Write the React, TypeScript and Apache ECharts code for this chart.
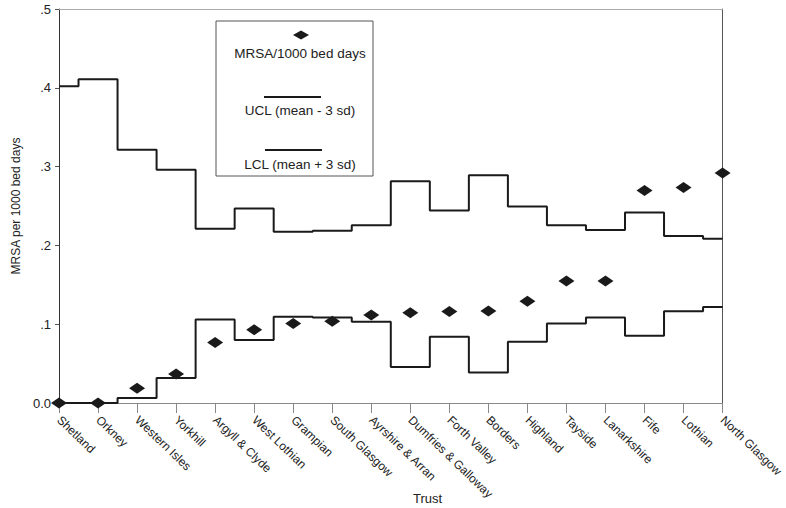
import React, { useEffect, useRef } from "react";
import * as echarts from "echarts";

const trusts = [
  "Shetland", "Orkney", "Western Isles", "Yorkhill", "Argyll & Clyde", "West Lothian",
  "Grampian", "South Glasgow", "Ayrshire & Arran", "Dumfries & Galloway", "Forth Valley",
  "Borders", "Highland", "Tayside", "Lanarkshire", "Fife", "Lothian", "North Glasgow",
];
const mrsaRate = [
  0.0, 0.0, 0.0186, 0.0367, 0.0768, 0.0928, 0.1009, 0.1038, 0.1118, 0.1145,
  0.116, 0.1169, 0.129, 0.1549, 0.1549, 0.2696, 0.2734, 0.292,
];
const upperLimit = [
  0.402, 0.411, 0.3215, 0.296, 0.221, 0.2468, 0.2173, 0.2186, 0.2257, 0.2814,
  0.2443, 0.289, 0.2494, 0.2257, 0.2194, 0.2418, 0.2118, 0.2084,
];
const lowerLimit = [
  0.0, 0.0, 0.0065, 0.0316, 0.106, 0.0798, 0.1093, 0.1084, 0.1031, 0.0458,
  0.084, 0.0388, 0.0776, 0.1008, 0.1084, 0.0852, 0.1165, 0.1219,
];
const yTicks = [0, 0.1, 0.2, 0.3, 0.4, 0.5];
const yTickLabels = ["0.0", ".1", ".2", ".3", ".4", ".5"];
const legendLabels = ["MRSA/1000 bed days", "UCL (mean - 3 sd)", "LCL (mean + 3 sd)"];

const FONT = "Liberation Sans, Arial, sans-serif";

export default function App() {
  const ref = useRef<HTMLDivElement>(null);
  useEffect(() => {
    if (!ref.current) return;
    const chart = echarts.init(ref.current, null, { renderer: "svg" });
    const labelFor = (v: number) => {
      const i = yTicks.findIndex((t) => Math.abs(t - v) < 1e-6);
      return i >= 0 ? yTickLabels[i] : "";
    };
    const legendText = (text: string, y: number) => ({
      type: "text",
      x: 300,
      y,
      style: {
        text,
        fontSize: 13.5,
        fontFamily: FONT,
        fill: "#222",
        align: "center",
        verticalAlign: "middle",
      },
      z: 11,
    });
    chart.setOption({
      animation: false,
      backgroundColor: "#ffffff",
      textStyle: { fontFamily: FONT },
      grid: { left: 59, right: 55, top: 9, bottom: 105, containLabel: false },
      xAxis: [
        {
          type: "category",
          data: trusts,
          boundaryGap: false,
          axisLine: { show: true, lineStyle: { color: "#888", width: 1 } },
          axisTick: { show: true, length: 10, lineStyle: { color: "#888" } },
          axisLabel: {
            rotate: -44,
            interval: 0,
            margin: 15,
            fontSize: 12,
            color: "#222",
            fontFamily: FONT,
          },
          splitLine: { show: false },
        },
        {
          type: "category",
          position: "top",
          data: trusts,
          boundaryGap: false,
          axisLine: { show: true, onZero: false, lineStyle: { color: "#aaa", width: 1 } },
          axisTick: { show: false },
          axisLabel: { show: false },
        },
      ],
      yAxis: [
        {
          type: "value",
          min: 0,
          max: 0.5,
          interval: 0.1,
          name: "MRSA per 1000 bed days",
          nameLocation: "middle",
          nameGap: 36,
          nameTextStyle: { fontSize: 12, color: "#222", fontFamily: FONT },
          axisLine: { show: true, lineStyle: { color: "#333", width: 1 } },
          axisTick: { show: true, length: 4, lineStyle: { color: "#555" } },
          axisLabel: {
            formatter: labelFor,
            fontSize: 13,
            color: "#222",
            margin: 8,
            fontFamily: FONT,
          },
          splitLine: { show: false },
        },
        {
          type: "value",
          position: "right",
          min: 0,
          max: 0.5,
          interval: 0.1,
          axisLine: { show: true, lineStyle: { color: "#555", width: 1 } },
          axisTick: { show: false },
          axisLabel: { show: false },
          splitLine: { show: false },
        },
      ],
      series: [
        {
          name: legendLabels[1],
          type: "line",
          data: upperLimit,
          step: "middle",
          showSymbol: false,
          lineStyle: { color: "#1a1a1a", width: 2 },
          z: 3,
        },
        {
          name: legendLabels[2],
          type: "line",
          data: lowerLimit,
          step: "middle",
          showSymbol: false,
          lineStyle: { color: "#1a1a1a", width: 2 },
          z: 3,
        },
        {
          name: legendLabels[0],
          type: "scatter",
          data: mrsaRate,
          symbol: "diamond",
          symbolSize: [16, 11],
          itemStyle: { color: "#1a1a1a", opacity: 1 },
          clip: false,
          z: 4,
        },
      ],
      graphic: [
        {
          type: "rect",
          shape: { x: 216, y: 21, width: 157, height: 155 },
          style: { fill: "#fff", stroke: "#555", lineWidth: 1 },
          z: 10,
        },
        {
          type: "polygon",
          shape: { points: [[293, 35], [301, 30.5], [309, 35], [301, 39.5]] },
          style: { fill: "#1a1a1a" },
          z: 11,
        },
        legendText(legendLabels[0], 53),
        {
          type: "line",
          shape: { x1: 264, y1: 97, x2: 321, y2: 97 },
          style: { stroke: "#1a1a1a", lineWidth: 2 },
          z: 11,
        },
        legendText(legendLabels[1], 110),
        {
          type: "line",
          shape: { x1: 265, y1: 150, x2: 322, y2: 150 },
          style: { stroke: "#1a1a1a", lineWidth: 2 },
          z: 11,
        },
        legendText(legendLabels[2], 164),
        {
          type: "text",
          x: 413,
          y: 498,
          style: {
            text: "Trust",
            fontSize: 13,
            fontFamily: FONT,
            fill: "#222",
            align: "left",
            verticalAlign: "middle",
          },
          z: 11,
        },
      ],
    });
    return () => chart.dispose();
  }, []);
  return <div ref={ref} style={{ width: 786, height: 508, position: "absolute", left: 0, top: 0 }} />;
}
